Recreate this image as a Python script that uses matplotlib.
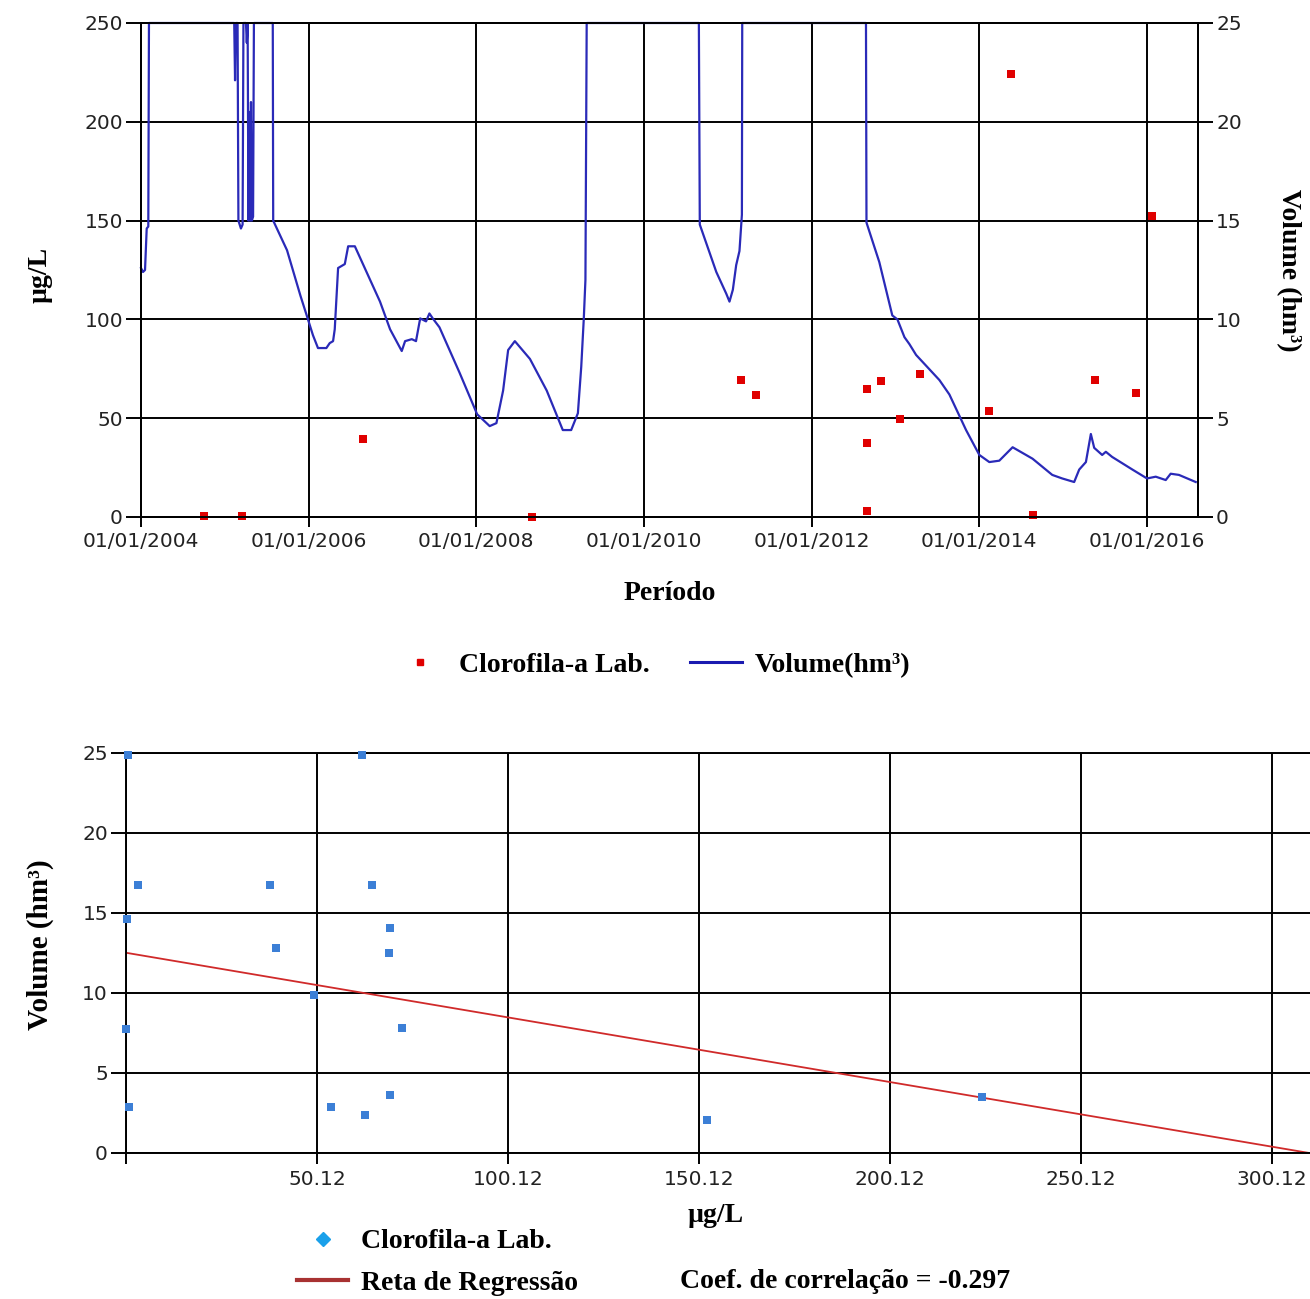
import numpy as np
import matplotlib.pyplot as plt
import matplotlib.dates as mdates
from matplotlib.lines import Line2D
from datetime import datetime, timedelta

# Clorofila-a lab samples: date (decimal year), concentration (ug/L)
sample_year = [2004.751, 2005.204, 2006.646, 2008.660, 2011.163, 2011.342,
               2012.665, 2012.665, 2012.665, 2012.832, 2013.050, 2013.297,
               2014.119, 2014.381, 2014.643, 2015.382, 2015.871, 2016.062]
chl = [0.6, 0.4, 39.4, 0.2, 69.3, 61.8, 64.6, 37.7, 3.2, 69.0, 49.4, 72.4,
       53.8, 224.3, 1.0, 69.2, 62.8, 152.3]
# reservoir volume (hm3) on each sample date
vol_sample = [24.9, 14.6, 12.8, 7.75, 14.06, 24.9, 16.75, 16.75, 16.75, 12.5,
              9.9, 7.8, 2.9, 3.5, 2.9, 3.6, 2.4, 2.06]

# daily volume series (hm3), decimal year
vol_year = [2004.000, 2004.024, 2004.048, 2004.068, 2004.087, 2004.095,
            2005.110, 2005.120, 2005.130, 2005.150, 2005.160, 2005.190, 2005.210,
            2005.220, 2005.250, 2005.260, 2005.270, 2005.280, 2005.290, 2005.300,
            2005.310, 2005.320, 2005.335, 2005.345, 2005.570, 2005.575,
            2005.740, 2005.900, 2005.990, 2006.050, 2006.110, 2006.210, 2006.250,
            2006.290, 2006.310, 2006.350, 2006.430, 2006.470, 2006.550, 2006.700,
            2006.850, 2006.970, 2007.110, 2007.150, 2007.230, 2007.280, 2007.330,
            2007.400, 2007.440, 2007.480, 2007.560, 2007.800, 2008.010, 2008.160,
            2008.240, 2008.320, 2008.380, 2008.460, 2008.640, 2008.840, 2009.030,
            2009.130, 2009.210, 2009.250, 2009.280, 2009.300, 2009.315,
            2010.654, 2010.665, 2010.862, 2010.981, 2011.020, 2011.060, 2011.100,
            2011.139, 2011.168, 2011.172,
            2012.649, 2012.655, 2012.808, 2012.963, 2013.022, 2013.106, 2013.165,
            2013.245, 2013.324, 2013.523, 2013.642, 2013.841, 2014.000, 2014.119,
            2014.238, 2014.397, 2014.635, 2014.870, 2014.989, 2015.132, 2015.192,
            2015.272, 2015.331, 2015.371, 2015.466, 2015.510, 2015.585, 2015.827,
            2016.002, 2016.106, 2016.225, 2016.284, 2016.383, 2016.483, 2016.583]
vol = [12.6, 12.4, 12.5, 14.6, 14.7, 25.0,
       25.0, 22.1, 25.0, 25.0, 15.0, 14.6, 14.8,
       25.0, 25.0, 24.0, 25.0, 15.0, 20.5, 15.0,
       21.0, 15.0, 15.2, 25.0, 25.0, 15.0,
       13.5, 11.2, 10.0, 9.2, 8.55, 8.55, 8.8,
       8.9, 9.5, 12.6, 12.8, 13.7, 13.7, 12.3,
       10.9, 9.5, 8.4, 8.9, 9.0, 8.9, 10.05,
       9.9, 10.3, 10.05, 9.6, 7.3, 5.2, 4.6,
       4.75, 6.4, 8.45, 8.9, 8.0, 6.4, 4.4,
       4.4, 5.25, 7.6, 10.0, 12.0, 25.0,
       25.0, 14.8, 12.4, 11.3, 10.9, 11.5, 12.75,
       13.46, 15.3, 25.0,
       25.0, 14.9, 12.9, 10.2, 10.0, 9.1, 8.75,
       8.2, 7.84, 6.93, 6.2, 4.4, 3.14, 2.78,
       2.85, 3.53, 2.95, 2.13, 1.95, 1.77, 2.4,
       2.78, 4.2, 3.5, 3.14, 3.3, 3.04, 2.4,
       1.95, 2.04, 1.87, 2.19, 2.13, 1.95, 1.77]

# regression line
reg_intercept = 12.52
reg_slope = -0.0404
corr = -0.297

chl_ticks = [0.12, 50.12, 100.12, 150.12, 200.12, 250.12, 300.12]
year_ticks = [2004, 2006, 2008, 2010, 2012, 2014, 2016]


def to_date(y):
    yr = int(y)
    return datetime(yr, 1, 1) + timedelta(days=(y - yr) * 365.25)


W, H = 1310, 1299
SERIF = dict(family='Liberation Serif', weight='bold')
TICK = dict(family='DejaVu Sans', size=14.5, color='#222222')
LBL = 20

fig = plt.figure(figsize=(W / 100, H / 100), dpi=100)


def ftxt(x, y, s, **kw):
    fig.text(x / W, 1 - y / H, s, **kw)


def style_ticks(a):
    for lab in a.get_xticklabels() + a.get_yticklabels():
        lab.set_fontfamily(TICK['family'])
        lab.set_fontsize(TICK['size'])
        lab.set_color(TICK['color'])


# ---- top panel: time series
ax1 = fig.add_axes([141 / W, 1 - 517 / H, (1198 - 141) / W, (517 - 23) / H])
ax2 = ax1.twinx()

ax1.scatter([to_date(y) for y in sample_year], chl, marker='s', s=34,
            color='#e00000', linewidths=0, zorder=3, clip_on=False)
ax2.plot([to_date(y) for y in vol_year], vol, color='#2a2ab8', lw=1.6,
         clip_on=False)

ax1.set_ylim(0, 250)
ax2.set_ylim(0, 25)
ax1.set_yticks(range(0, 251, 50))
ax2.set_yticks(range(0, 26, 5))
ax1.set_xlim(to_date(2004.0), to_date(2016.61))
ax1.set_xticks([datetime(y, 1, 1) for y in year_ticks])
ax1.xaxis.set_major_formatter(mdates.DateFormatter('%d/%m/%Y'))

ax1.grid(True, color='black', lw=1.4)
ax1.set_axisbelow(True)
for a in (ax1, ax2):
    for sp in a.spines.values():
        sp.set_color('black')
        sp.set_linewidth(1.4)
    style_ticks(a)
ax1.tick_params(axis='y', length=11, width=1.4, pad=2)
ax1.tick_params(axis='x', length=7, width=1.4, pad=4)
ax2.tick_params(axis='y', length=11, width=1.4, pad=2)

ftxt(40, 275, 'µg/L', rotation=90, ha='center', va='center', size=LBL, **SERIF)
ftxt(1288, 270, 'Volume (hm³)', rotation=270, ha='center', va='center',
     size=LBL, **SERIF)
ftxt(670, 593, 'Período', ha='center', va='center', size=LBL, **SERIF)

top_handles = [Line2D([], [], marker='s', ls='none', color='#e00000', markersize=4),
               Line2D([], [], color='#1a1ab0', lw=2.2)]
fig.legend(top_handles, ['Clorofila-a Lab.', 'Volume(hm³)'], ncol=2,
           loc='center', bbox_to_anchor=(652 / W, 1 - 665 / H), frameon=False,
           handlelength=1.9, handletextpad=0.45, columnspacing=1.45,
           prop=dict(size=LBL, **SERIF))

# ---- bottom panel: scatter with regression
ax3 = fig.add_axes([126 / W, 1 - 1153 / H, (W - 126) / W, (1153 - 753) / H])
ax3.scatter(chl, vol_sample, marker='s', s=30, color='#3c7fd6', linewidths=0,
            zorder=3, clip_on=False)
xr = np.array([chl_ticks[0], 310.1])
ax3.plot(xr, reg_intercept + reg_slope * xr, color='#d02a2a', lw=1.3, zorder=2)

ax3.set_xlim(chl_ticks[0], 310.1)
ax3.set_ylim(0, 25)
ax3.set_xticks(chl_ticks)
ax3.set_xticklabels([''] + ['%.2f' % t for t in chl_ticks[1:]])
ax3.set_yticks(range(0, 26, 5))
ax3.grid(True, color='black', lw=1.4)
ax3.set_axisbelow(True)
ax3.spines['right'].set_visible(False)
for sp in ax3.spines.values():
    sp.set_color('black')
    sp.set_linewidth(1.4)
style_ticks(ax3)
ax3.tick_params(axis='y', length=11, width=1.4, pad=2)
ax3.tick_params(axis='x', length=8, width=1.4, pad=4)

ftxt(40, 945, 'Volume (hm³)', rotation=90, ha='center', va='center', size=21,
     **SERIF)
ftxt(716, 1215, 'µg/L', ha='center', va='center', size=LBL, **SERIF)

bot_handles = [Line2D([], [], marker='D', ls='none', color='#1aa0ea', markersize=7),
               Line2D([], [], color='#a83232', lw=3)]
fig.legend(bot_handles, ['Clorofila-a Lab.', 'Reta de Regressão'],
           loc='upper left', bbox_to_anchor=(283 / W, 1 - 1215 / H),
           frameon=False, handlelength=1.85, handletextpad=0.45,
           labelspacing=0.57, borderpad=0, prop=dict(size=LBL, **SERIF))
ftxt(680, 1281, 'Coef. de correlação = %.3f' % corr, ha='left', va='center',
     size=LBL, **SERIF)

fig.savefig('out.png', dpi=100)
